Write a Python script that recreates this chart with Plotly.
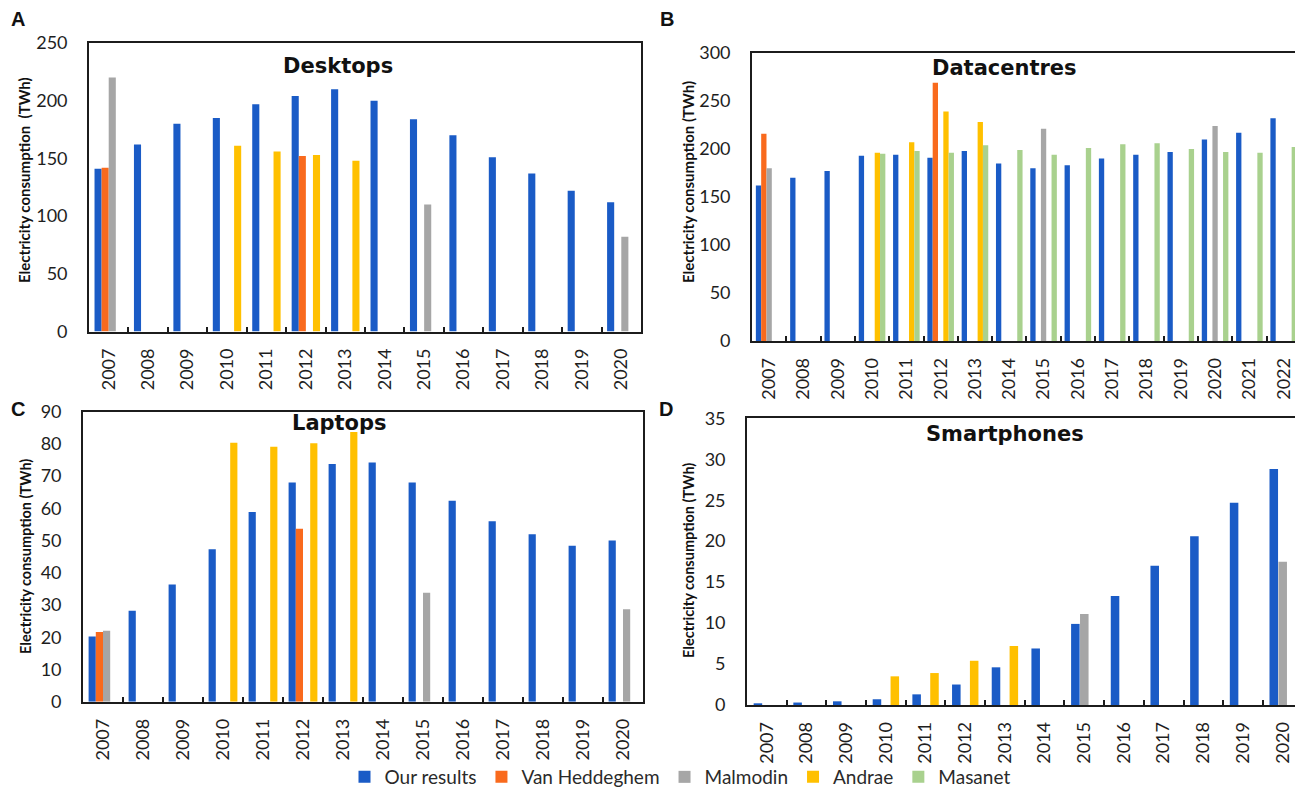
import plotly.graph_objects as go

# ---------------------------------------------------------------- data
YEARS_A = ["2007", "2008", "2009", "2010", "2011", "2012", "2013",
           "2014", "2015", "2016", "2017", "2018", "2019", "2020"]
YEARS_B = ["2007", "2008", "2009", "2010", "2011", "2012", "2013", "2014",
           "2015", "2016", "2017", "2018", "2019", "2020", "2021", "2022"]

# Desktops (TWh)
desk_our = [141, 162, 180, 185, 197, 204, 210, 200, 184, 170, 151, 137, 122, 112]
desk_vanh = [142, None, None, None, None, 152, None, None, None, None, None, None, None, None]
desk_malm = [220, None, None, None, None, None, None, None, 110, None, None, None, None, 82]
desk_andr = [None, None, None, 161, 156, 153, 148, None, None, None, None, None, None, None]

# Datacentres (TWh)
dc_our = [162, 170, 177, 193, 194, 191, 198, 185, 180, 183, 190, 194, 197, 210, 217, 232]
dc_vanh = [216, None, None, None, None, 269, None, None, None, None, None, None, None, None, None, None]
dc_malm = [180, None, None, None, None, None, None, None, 221, None, None, None, None, 224, None, None]
dc_andr = [None, None, None, 196, 207, 239, 228, None, None, None, None, None, None, None, None, None]
dc_masa = [None, None, None, 195, 198, 196, 204, 199, 194, 201, 205, 206, 200, 197, 196, 202]

# Laptops (TWh)
lap_our = [20.2, 28.2, 36.4, 47.3, 58.9, 68.0, 73.8, 74.2, 68.0, 62.4, 56.0, 52.0, 48.4, 50.0]
lap_vanh = [21.6, None, None, None, None, 53.7, None, None, None, None, None, None, None, None]
lap_malm = [22.0, None, None, None, None, None, None, None, 33.8, None, None, None, None, 28.7]
lap_andr = [None, None, None, 80.4, 79.1, 80.2, 83.7, None, None, None, None, None, None, None]

# Smartphones (TWh)
sp_our = [0.15, 0.3, 0.45, 0.7, 1.3, 2.5, 4.6, 6.9, 9.9, 13.3, 17.0, 20.6, 24.7, 28.8]
sp_malm = [None, None, None, None, None, None, None, None, 11.1, None, None, None, None, 17.5]
sp_andr = [None, None, None, 3.5, 3.9, 5.4, 7.2, None, None, None, None, None, None, None]

COLORS = {
    "Our results": "#1A5BC6",
    "Van Heddeghem": "#F96A1D",
    "Malmodin": "#A6A6A6",
    "Andrae": "#FFC000",
    "Masanet": "#A9D18E",
}

# ---------------------------------------------------------------- geometry
W, H = 1295, 788


def px_x(v):
    return v / W


def px_y(v):
    return 1 - v / H


XTICK_FONT = dict(family="Lato", size=18, color="#1e1e1e")
YTICK_FONT = dict(family="Lato", size=18, color="#1e1e1e")
LINE = "#1c1c1c"

fig = go.Figure()


def add_panel(years, series, xa, ya, slot, width, legend=False):
    n = len(series)
    for i, (name, vals) in enumerate(series):
        centre = (i - (n - 1) / 2) * slot
        fig.add_trace(go.Bar(
            x=years, y=vals, name=name,
            width=width, offset=centre - width / 2,
            marker=dict(color=COLORS[name], line=dict(width=0)),
            xaxis=xa, yaxis=ya, showlegend=legend,
        ))


add_panel(YEARS_A, [("Our results", desk_our), ("Van Heddeghem", desk_vanh),
                    ("Malmodin", desk_malm), ("Andrae", desk_andr)],
          "x", "y", 0.18, 0.18)
add_panel(YEARS_B, [("Our results", dc_our), ("Van Heddeghem", dc_vanh),
                    ("Malmodin", dc_malm), ("Andrae", dc_andr), ("Masanet", dc_masa)],
          "x2", "y2", 0.155, 0.155, legend=True)
add_panel(YEARS_A, [("Our results", lap_our), ("Van Heddeghem", lap_vanh),
                    ("Malmodin", lap_malm), ("Andrae", lap_andr)],
          "x3", "y3", 0.18, 0.18)
add_panel(YEARS_A, [("Our results", sp_our), ("Malmodin", sp_malm),
                    ("Andrae", sp_andr)],
          "x4", "y4", 0.225, 0.215)


def xax(left, right, xrange, anchor):
    return dict(
        domain=[px_x(left), min(1.0, px_x(right))], type="category",
        range=xrange, anchor=anchor,
        showline=True, linecolor=LINE, linewidth=1.7, mirror=True,
        ticks="inside", tickson="boundaries", ticklen=5, tickwidth=1.6,
        tickcolor=LINE, tickangle=-90, tickfont=XTICK_FONT,
        ticklabelstandoff=8, showgrid=False, zeroline=False,
    )


def yax(top, bottom, yrange, dtick, anchor, mirror=True):
    return dict(
        domain=[px_y(bottom), px_y(top)], range=yrange, dtick=dtick,
        anchor=anchor, showline=True, linecolor=LINE, linewidth=1.7,
        mirror=mirror, ticks="", tickfont=YTICK_FONT, ticklabelstandoff=16,
        showgrid=False, zeroline=False,
    )


fig.update_layout(
    width=W, height=H,
    margin=dict(l=0, r=0, t=0, b=0, autoexpand=False),
    paper_bgcolor="white", plot_bgcolor="white",
    barmode="overlay",
    xaxis=xax(89, 641, [-0.5, 13.5], "y"),
    yaxis=yax(43, 331.5, [0, 250], 50, "x"),
    xaxis2=xax(752, W, [-0.5, 15.33], "y2"),
    yaxis2=yax(53, 341, [0, 300], 50, "x2", mirror=False),
    xaxis3=xax(83, 643, [-0.5, 13.5], "y3"),
    yaxis3=yax(411.7, 701.7, [0, 90], 10, "x3"),
    xaxis4=xax(747, W, [-0.5, 13.31], "y4"),
    yaxis4=yax(418.3, 705, [0, 35], 5, "x4", mirror=False),
    legend=dict(
        orientation="h", x=px_x(680), y=px_y(777),
        xanchor="center", yanchor="middle",
        font=dict(family="Lato", size=19, color="#2a2a2a"),
        itemwidth=30, tracegroupgap=0, bgcolor="rgba(0,0,0,0)",
    ),
)

annotations = []


def text(x, y, s, size, family, angle=0, bold=True):
    annotations.append(dict(
        x=px_x(x), y=px_y(y), xref="paper", yref="paper",
        text=f"<b>{s}</b>" if bold else s, showarrow=False,
        textangle=angle, xanchor="center", yanchor="middle",
        font=dict(family=family, size=size, color="#111111"),
    ))


# panel letters
text(18, 19, "A", 20, "Liberation Sans")
text(667, 19, "B", 20, "Liberation Sans")
text(18, 409, "C", 20, "Liberation Sans")
text(666, 409, "D", 20, "Liberation Sans")

# panel titles
text(338, 66, "Desktops", 21, "DejaVu Sans")
text(1004, 68, "Datacentres", 21, "DejaVu Sans")
text(339, 423, "Laptops", 21, "DejaVu Sans")
text(1005, 434, "Smartphones", 21, "DejaVu Sans")

# y-axis titles
text(24, 180, "Electricity consumption  (TWh)", 15, "Lato", angle=-90)
text(688, 182, "Electricity consumption (TWh)", 15, "Lato", angle=-90)
text(25, 557, "Electricity consumption (TWh)", 14.5, "Lato", angle=-90)
text(688, 561, "Electricity consumption (TWh)", 14.5, "Lato", angle=-90)

fig.update_layout(annotations=annotations)

fig.write_html("out.html")
